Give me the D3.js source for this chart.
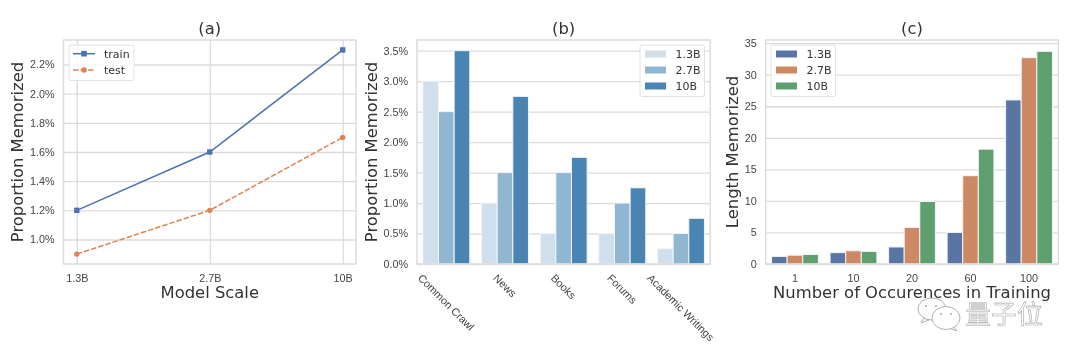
<!DOCTYPE html>
<html>
<head>
<meta charset="utf-8">
<script src="https://cdn.jsdelivr.net/npm/d3@7"></script>
<style>
  html, body { margin: 0; padding: 0; background: #fff; }
  svg { display: block; font-family: "DejaVu Sans", sans-serif; filter: blur(0.4px); }
  .tick text { fill: #444; font-size: 10.8px; }
  .domain { display: none; }
  .tick line { stroke: #dcdcdc; stroke-width: 1.3; }
</style>
</head>
<body>
<div class="canvas"></div>
<script>
/*---------------------------
  DATA
---------------------------*/
const modelScales = ['1.3B', '2.7B', '10B'];
const trainValues = [1.2, 1.6, 2.3];
const testValues = [0.9, 1.2, 1.7];
const lineTicks = [1.0, 1.2, 1.4, 1.6, 1.8, 2.0, 2.2];

const sources = ['Common Crawl', 'News', 'Books', 'Forums', 'Academic Writings'];
const source13B = [3.0, 1.0, 0.5, 0.5, 0.25];
const source27B = [2.5, 1.5, 1.5, 1.0, 0.5];
const source10B = [3.5, 2.75, 1.75, 1.25, 0.75];
const sourceTicks = [0, 0.5, 1.0, 1.5, 2.0, 2.5, 3.0, 3.5];

const occurrences = ['1', '10', '20', '60', '100'];
const length13B = [1.2, 1.8, 2.7, 5.0, 26.0];
const length27B = [1.4, 2.1, 5.8, 14.0, 32.7];
const length10B = [1.5, 2.0, 9.9, 18.2, 33.7];
const lengthTicks = [0, 5, 10, 15, 20, 25, 30, 35];

/*---------------------------
  VARIABLES
---------------------------*/
const dims = { width: 1080, height: 362, top: 40, bottom: 264 };
const blues = ['#cfdfec', '#8fb7d2', '#4a84b3'];
const deep = ['#5975a4', '#cc8963', '#5f9e6e'];
const lineColors = ['#4c72b0', '#dd8452'];
const spine = '#dcdcdc';
const labelSize = 16.4;

const svg = d3.select('.canvas')
  .append('svg')
  .attr('width', dims.width)
  .attr('height', dims.height);

// grid, title and y axis shared by all three panels
const makePanel = (box, yScale, ticks, format, title, yLabel) => {
  const g = svg.append('g');

  g.append('g')
    .attr('transform', `translate(${box.left}, 0)`)
    .call(d3.axisLeft(yScale).tickValues(ticks).tickFormat(format)
      .tickSize(-(box.right - box.left)).tickPadding(9));

  g.append('text')
    .attr('x', (box.left + box.right) / 2)
    .attr('y', 34)
    .attr('text-anchor', 'middle')
    .attr('font-size', labelSize)
    .attr('fill', '#333')
    .text(title);

  g.append('text')
    .attr('transform', `translate(${box.labelX}, ${(dims.top + dims.bottom) / 2}) rotate(-90)`)
    .attr('text-anchor', 'middle')
    .attr('font-size', labelSize)
    .attr('fill', '#333')
    .text(yLabel);

  return g;
};

const drawFrame = (g, box) => {
  g.append('rect')
    .attr('x', box.left)
    .attr('y', dims.top)
    .attr('width', box.right - box.left)
    .attr('height', dims.bottom - dims.top)
    .attr('fill', 'none')
    .attr('stroke', spine)
    .attr('stroke-width', 1.5);
};

const drawXLabel = (g, box, text) => {
  g.append('text')
    .attr('x', (box.left + box.right) / 2)
    .attr('y', 298)
    .attr('text-anchor', 'middle')
    .attr('font-size', labelSize)
    .attr('fill', '#333')
    .text(text);
};

const drawLegendBox = (g, x, y, w, h) => {
  g.append('rect')
    .attr('x', x).attr('y', y)
    .attr('width', w).attr('height', h)
    .attr('rx', 2)
    .attr('fill', '#fff')
    .attr('fill-opacity', 0.85)
    .attr('stroke', '#e2e2e2');
};

// grouped bars, used by (b) and (c)
const drawBars = (g, box, yScale, categories, series, colors) => {
  const x0 = d3.scaleBand()
    .domain(categories)
    .range([box.left, box.right])
    .paddingInner(0.2)
    .paddingOuter(0.1);
  const x1 = d3.scaleBand()
    .domain(d3.range(series.length))
    .range([0, x0.bandwidth()]);

  const groups = g.selectAll('.series')
    .data(series)
    .enter()
    .append('g')
    .attr('fill', (d, i) => colors[i]);

  groups.selectAll('rect')
    .data((d, i) => d.map((v, k) => ({ v, cat: categories[k], s: i })))
    .enter()
    .append('rect')
    .attr('x', d => x0(d.cat) + x1(d.s))
    .attr('y', d => yScale(d.v))
    .attr('width', x1.bandwidth())
    .attr('height', d => yScale(0) - yScale(d.v))
    .attr('stroke', '#f2f5f8')
    .attr('stroke-width', 1);

  return x0;
};

const drawBarLegend = (g, x, labels, colors) => {
  drawLegendBox(g, x, 45, 64.5, 51.5);
  labels.forEach((label, i) => {
    const y = 54 + i * 16;
    g.append('rect')
      .attr('x', x + 5).attr('y', y - 3.5)
      .attr('width', 21).attr('height', 7)
      .attr('fill', colors[i]);
    g.append('text')
      .attr('x', x + 35.5).attr('y', y + 4.2)
      .attr('font-size', 11)
      .attr('fill', '#333')
      .text(label);
  });
};

/*---------------------------
  PANEL A
---------------------------*/
const aBox = { left: 63.5, right: 356, labelX: 23 };
const yA = d3.scaleLinear().domain([0.832, 2.368]).range([dims.bottom, dims.top]);
const xA = d3.scalePoint()
  .domain(modelScales)
  .range([aBox.left, aBox.right])
  .padding(0.1);

const panelA = makePanel(aBox, yA, lineTicks, d => `${d.toFixed(1)}%`, '(a)', 'Proportion Memorized');

panelA.append('g')
  .attr('transform', `translate(0, ${dims.bottom})`)
  .call(d3.axisBottom(xA).tickSize(-(dims.bottom - dims.top)).tickPadding(10));
drawFrame(panelA, aBox);

const line = d3.line()
  .x((d, i) => xA(modelScales[i]))
  .y(d => yA(d));

panelA.append('path')
  .attr('d', line(trainValues))
  .attr('fill', 'none')
  .attr('stroke', lineColors[0])
  .attr('stroke-width', 1.5);

panelA.append('path')
  .attr('d', line(testValues))
  .attr('fill', 'none')
  .attr('stroke', lineColors[1])
  .attr('stroke-width', 1.5)
  .attr('stroke-dasharray', '5.5 2');

panelA.selectAll('.train')
  .data(trainValues)
  .enter()
  .append('rect')
  .attr('x', (d, i) => xA(modelScales[i]) - 2.7)
  .attr('y', d => yA(d) - 2.7)
  .attr('width', 5.4)
  .attr('height', 5.4)
  .attr('fill', lineColors[0]);

panelA.selectAll('.test')
  .data(testValues)
  .enter()
  .append('circle')
  .attr('cx', (d, i) => xA(modelScales[i]))
  .attr('cy', d => yA(d))
  .attr('r', 2.7)
  .attr('fill', lineColors[1]);

// line legend
drawLegendBox(panelA, 69, 45, 65, 35.5);
[['train', 53.7], ['test', 70]].forEach(([label, y], i) => {
  panelA.append('line')
    .attr('x1', 73).attr('x2', 95)
    .attr('y1', y).attr('y2', y)
    .attr('stroke', lineColors[i])
    .attr('stroke-width', 1.5)
    .attr('stroke-dasharray', i ? '5.5 2' : null);
  if (i) {
    panelA.append('circle').attr('cx', 84).attr('cy', y).attr('r', 2.8).attr('fill', lineColors[i]);
  } else {
    panelA.append('rect').attr('x', 81.2).attr('y', y - 2.8).attr('width', 5.6).attr('height', 5.6).attr('fill', lineColors[i]);
  }
  panelA.append('text')
    .attr('x', 104).attr('y', y + 4.2)
    .attr('font-size', 11)
    .attr('fill', '#333')
    .text(label);
});

drawXLabel(panelA, aBox, 'Model Scale');

/*---------------------------
  PANEL B
---------------------------*/
const bBox = { left: 417, right: 710.3, labelX: 376.5 };
const yB = d3.scaleLinear().domain([0, 3.675]).range([dims.bottom, dims.top]);
const panelB = makePanel(bBox, yB, sourceTicks, d => `${d.toFixed(1)}%`, '(b)', 'Proportion Memorized');

const x0B = drawBars(panelB, bBox, yB, sources, [source13B, source27B, source10B], blues);
drawFrame(panelB, bBox);

// rotated labels: top of the rotated box sits just under the axis
panelB.append('g')
  .attr('transform', `translate(0, ${dims.bottom})`)
  .call(d3.axisBottom(x0B).tickSize(0))
  .selectAll('.tick text')
  .attr('text-anchor', 'middle')
  .attr('dy', 0)
  .attr('y', 0)
  .attr('dominant-baseline', 'central')
  .attr('transform', function rotate() {
    const half = (this.getComputedTextLength() + 11) * Math.SQRT1_2 / 2;
    return `translate(0, ${8 + half}) rotate(45)`;
  });

drawBarLegend(panelB, 640, modelScales, blues);

/*---------------------------
  PANEL C
---------------------------*/
const cBox = { left: 765.7, right: 1058.3, labelX: 738 };
const yC = d3.scaleLinear().domain([0, 35.5]).range([dims.bottom, dims.top]);
const panelC = makePanel(cBox, yC, lengthTicks, d => d, '(c)', 'Length Memorized');

const x0C = drawBars(panelC, cBox, yC, occurrences, [length13B, length27B, length10B], deep);
drawFrame(panelC, cBox);

panelC.append('g')
  .attr('transform', `translate(0, ${dims.bottom})`)
  .call(d3.axisBottom(x0C).tickSize(0).tickPadding(10));

drawBarLegend(panelC, 771, modelScales, deep);
drawXLabel(panelC, cBox, 'Number of Occurences in Training');

/*---------------------------
  WATERMARK
---------------------------*/
const mark = svg.append('g')
  .attr('fill', '#fff')
  .attr('stroke', '#a8a8a8')
  .attr('stroke-width', 0.9);

mark.append('path').attr('d', 'M924 318 L921 323 L929 320 Z');
mark.append('ellipse').attr('cx', 932).attr('cy', 309).attr('rx', 14).attr('ry', 11);
mark.append('path').attr('d', 'M953 326 L957 331 L949 328 Z');
mark.append('ellipse').attr('cx', 946).attr('cy', 318).attr('rx', 14).attr('ry', 11.5);
[[926, 306], [936, 306], [941, 314], [951, 314]].forEach(([cx, cy]) => {
  mark.append('circle').attr('cx', cx).attr('cy', cy).attr('r', 1).attr('fill', '#a8a8a8').attr('stroke', 'none');
});
mark.append('text')
  .attr('x', 965)
  .attr('y', 324)
  .attr('font-family', '"Noto Sans CJK SC"')
  .attr('font-size', 26)
  .attr('stroke-width', 0.6)
  .text('量子位');
</script>
</body>
</html>
